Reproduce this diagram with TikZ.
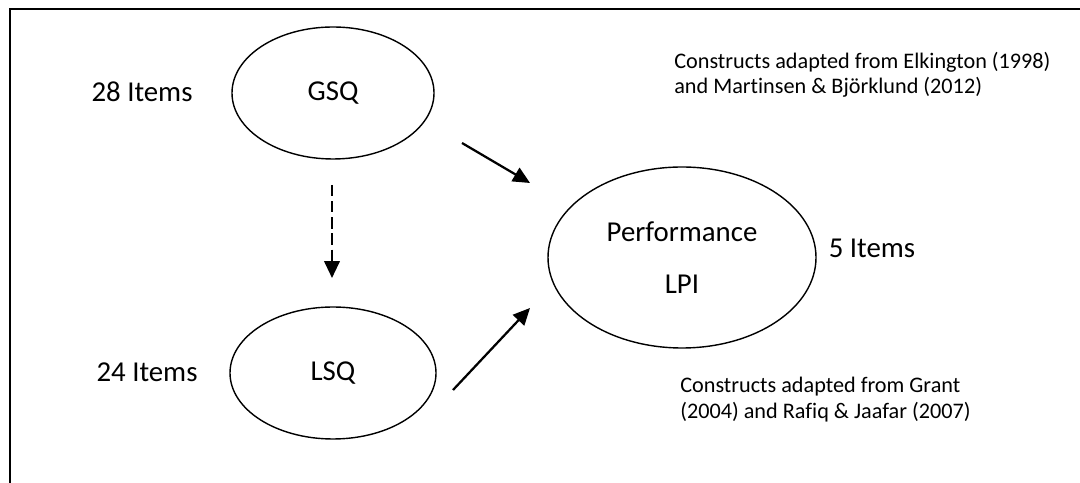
\documentclass[tikz,border=0pt]{standalone}
\usepackage{fontspec}
\setmainfont{Carlito}[Ligatures=NoCommon]
\usepackage{tikz}
\usetikzlibrary{shapes,arrows.meta,positioning,calc}

\begin{document}
\begin{tikzpicture}[
            construct/.style={ellipse, draw, line width=1pt, inner sep=0pt, minimum height=3.3cm, font=\fontsize{20.5}{24}\selectfont},
            items/.style={inner sep=0pt, font=\fontsize{20.5}{24}\selectfont},
            source/.style={inner sep=0pt, anchor=west, align=left, font=\fontsize{15.8}{18}\selectfont},
            link/.style={-{Triangle[length=12pt,width=11pt]}, line width=1.6pt}
        ]
            \useasboundingbox (0,0) rectangle (27,12.075);
            \draw[line width=1pt] (0.25,0) -- (0.25,11.85) -- (27,11.85);

            \node[construct, minimum width=5.05cm] (gsq) at (8.325,9.75) {GSQ};
            \node[construct, minimum width=5.15cm] (lsq) at (8.325,2.75) {LSQ};
            \node[construct, minimum width=6.7cm, minimum height=4.525cm, align=center] (perf) at (17.05,5.6375) {Performance\\[0.45cm]LPI};

            \node[items] (gsqitems) at (3.55,9.775) {28 Items};
            \node[items] (lsqitems) at (3.675,2.775) {24 Items};
            \node[items] (perfitems) at (21.8,5.875) {5 Items};

            \node[source] (srctop) at (16.85,10.2125) {Constructs adapted from Elkington (1998)\\and Martinsen \& Björklund (2012)};
            \node[source] (srcbottom) at (17.0,2.0875) {Constructs adapted from Grant\\(2004) and Rafiq \& Jaafar (2007)};

            \coordinate (g1) at (11.55,8.5);
            \coordinate (g2) at (13.25,7.5);
            \coordinate (l1) at (11.325,2.325);
            \coordinate (l2) at (13.25,4.375);
            \coordinate (d1) at (8.3,7.45);
            \coordinate (d2) at (8.3,5.125);

            \draw[link] (g1) -- (g2);
            \draw[link] (l1) -- (l2);
            \draw[link, dash pattern=on 8pt off 3.5pt] (d1) -- (d2);
        \end{tikzpicture}
\end{document}
